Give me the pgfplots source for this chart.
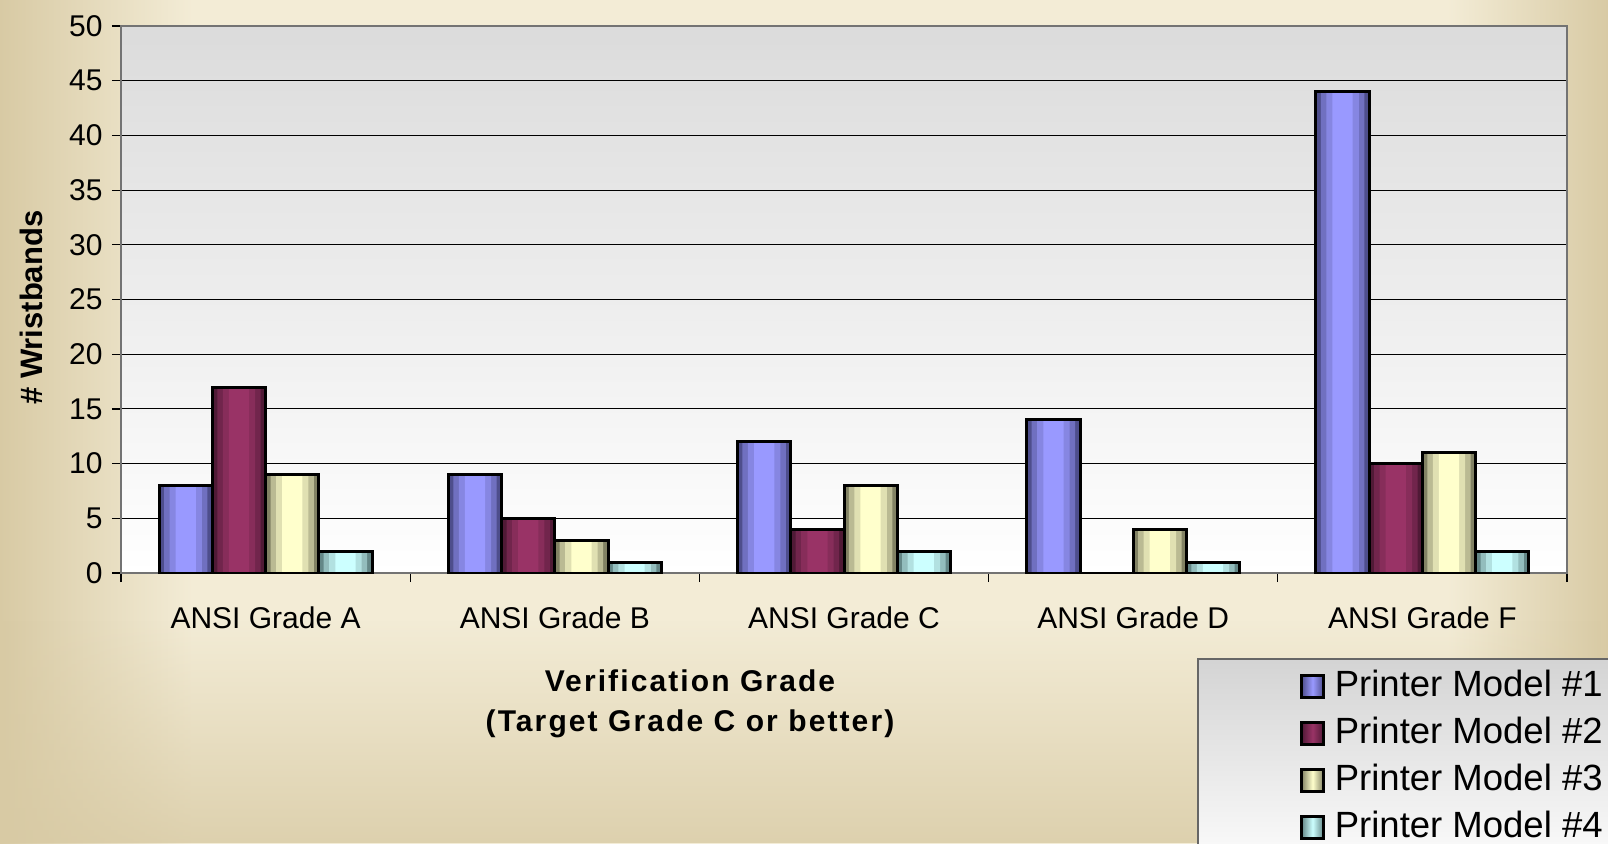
\documentclass[border=0pt]{standalone}
\usepackage{pgfplots}
\usepackage{pgfplotstable}
\pgfplotsset{compat=1.18}
\usetikzlibrary{fadings}
\usepackage{fontspec}
\setmainfont{Liberation Sans}
\definecolor{bgtan}{RGB}{216,202,164}
\definecolor{bgcream}{RGB}{243,236,214}
\definecolor{pA}{RGB}{153,153,255}\definecolor{pAd}{RGB}{78,78,140}
\definecolor{pB}{RGB}{153,51,102}\definecolor{pBd}{RGB}{80,26,54}
\definecolor{pC}{RGB}{255,255,204}\definecolor{pCd}{RGB}{130,130,100}
\definecolor{pD}{RGB}{204,255,255}\definecolor{pDd}{RGB}{100,135,135}
\pgfdeclarehorizontalshading{bgshade}{100bp}{color(0bp)=(bgtan); color(25bp)=(bgtan); color(31bp)=(bgcream); color(70bp)=(bgcream); color(75bp)=(bgtan); color(100bp)=(bgtan)}
\pgfplotstableread{
x y
0 8
1 9
2 12
3 14
4 44
}\sA
\pgfplotstableread{
x y
0 17
1 5
2 4
3 0
4 10
}\sB
\pgfplotstableread{
x y
0 9
1 3
2 8
3 4
4 11
}\sC
\pgfplotstableread{
x y
0 2
1 1
2 2
3 1
4 2
}\sD
\newcommand\barseries[4]{%
 \addplot[forget plot, ybar, bar width=0.184, bar shift=#1, draw=none, fill=#3] table[x=x,y=y] {#4};
 \addplot[forget plot, ybar, bar width=0.150, bar shift=#1, draw=none, fill=#2!45!#3] table[x=x,y=y] {#4};
 \addplot[forget plot, ybar, bar width=0.112, bar shift=#1, draw=none, fill=#2!75!#3] table[x=x,y=y] {#4};
 \addplot[forget plot, ybar, bar width=0.070, bar shift=#1, draw=none, fill=#2] table[x=x,y=y] {#4};
 \addplot[forget plot, ybar, bar width=0.184, bar shift=#1, draw=black, line width=3pt, fill=none] table[x=x,y=y] {#4};
}
\begin{document}
\begin{tikzpicture}
\shade[shading=bgshade] (0pt,0pt) rectangle (1608pt,-843pt);
\fill[bgtan, path fading=north, opacity=0.8] (0pt,-620pt) rectangle (1608pt,-843pt);
\shade[top color=black!17, bottom color=white, draw=black!60, line width=1.2pt] (1198pt,-659pt) rectangle (1640pt,-880pt);
\begin{axis}[
  at={(121pt,-573pt)}, anchor=south west,
  scale only axis, width=1446pt, height=547pt,
  xmin=-0.5, xmax=4.5, ymin=0, ymax=50,
  axis background/.style={shade, top color=black!14, bottom color=white},
  ytick={0,5,...,50},
  ymajorgrids, grid style={black, line width=1.1pt},
  xtick={-0.5,0.5,...,4.5}, xticklabels={},
  extra x ticks={0,1,2,3,4},
  extra x tick labels={ANSI Grade A,ANSI Grade B,ANSI Grade C,ANSI Grade D,ANSI Grade F},
  extra x tick style={tick style={draw=none}, grid=none},
  tick align=outside, tick pos=left, major tick length=9pt,
  tick style={black, line width=1.2pt},
  axis line style={black!55, line width=1.5pt},
  /pgf/number format/assume math mode=true,
  yticklabel style={font=\fontsize{30}{36}\selectfont, xshift=-6pt},
  xticklabel style={font=\fontsize{30}{34}\selectfont, yshift=-21pt},
  xlabel={Verification Grade\\(Target Grade C or better)},
  xlabel style={at={(axis description cs:0.3935,-0.24)}, anchor=center, align=center, font=\bfseries\fontsize{30}{40}\selectfont\addfontfeature{LetterSpace=7}},
  ylabel={\# Wristbands},
  ylabel style={at={(axis description cs:-0.0622,0.485)}, anchor=center, font=\bfseries\fontsize{31}{34}\selectfont},
  legend image code/.code={\draw[#1, line width=2.6pt] (0pt,-11pt) rectangle (22pt,11pt);},
  legend style={at={(axis description cs:0.8154,-0.1755)}, anchor=north west, draw=none, fill=none,
    font=\fontsize{36.5}{40}\selectfont, inner sep=0pt, row sep=12pt, column sep=10pt,
    nodes={inner sep=0pt, text height=27pt, text depth=8pt}},
  legend cell align=left,
]
\barseries{-0.276}{pA}{pAd}{\sA}
\barseries{-0.092}{pB}{pBd}{\sB}
\barseries{0.092}{pC}{pCd}{\sC}
\barseries{0.276}{pD}{pDd}{\sD}
\addlegendimage{draw=black, left color=pAd, right color=pAd, middle color=pA}
\addlegendimage{draw=black, left color=pBd, right color=pBd, middle color=pB}
\addlegendimage{draw=black, left color=pCd, right color=pCd, middle color=pC}
\addlegendimage{draw=black, left color=pDd, right color=pDd, middle color=pD}
\legend{Printer Model \#1,Printer Model \#2,Printer Model \#3,Printer Model \#4}
\end{axis}
\pgfresetboundingbox
\path (0pt,0pt) rectangle (1608pt,-843pt);
\end{tikzpicture}
\end{document}
